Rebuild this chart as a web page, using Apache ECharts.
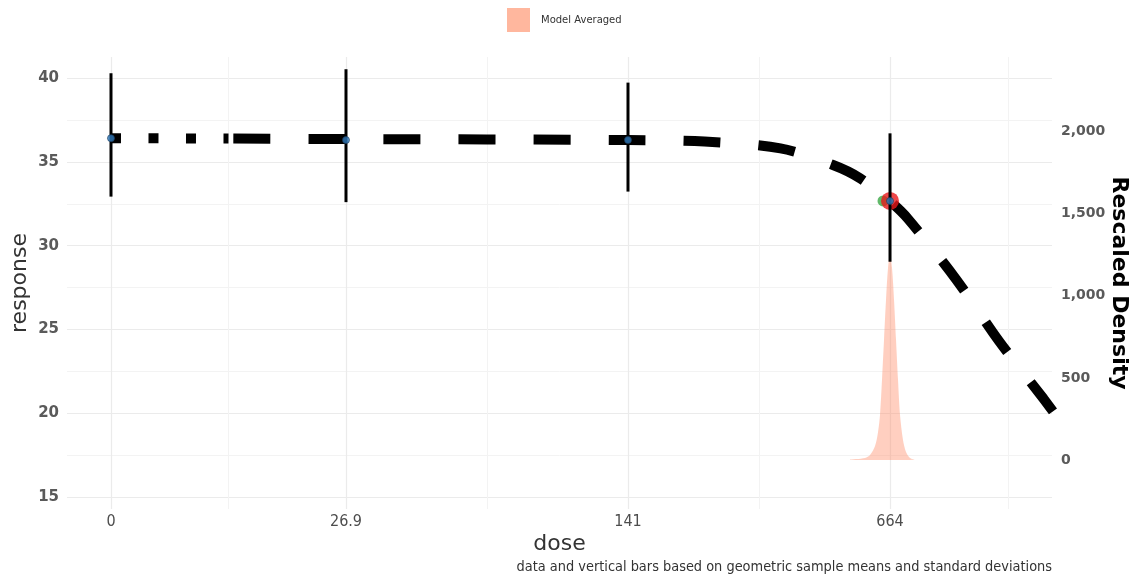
<!DOCTYPE html>
<html><head><meta charset="utf-8">
<script src="https://cdn.jsdelivr.net/npm/echarts@6/dist/echarts.min.js"></script>
<style>html,body{margin:0;padding:0;background:#fff}#c{width:1135px;height:578px}</style>
</head><body><div id="c"></div><script>
// ---- axis definition (dose scale as drawn: tick doses and their scale positions)
const tickDoses = [0, 26.9, 141, 664];
const tickLabels = ['0', '26.9', '141', '664'];
const tickAxisPos = [0, 1, 2.2, 3.315];
const minorAxisPos = [0.5, 1.6, 2.7575, 3.82];
const yTicks = [15, 20, 25, 30, 35, 40];
const yMinorTicks = [17.5, 22.5, 27.5, 32.5, 37.5];
const densityTicks = [0, 500, 1000, 1500, 2000];

// ---- observed data (geometric means and SD bars)
const meanDoses = [0, 26.9, 141, 664];
const meanResp = [36.42, 36.31, 36.31, 32.67];
const lowerResp = [32.93, 32.6, 33.23, 29.04];
const upperResp = [40.3, 40.54, 39.74, 36.71];

// ---- model averaged curve
const curveDotDoses = [0, 6.7, 13.45];
const curveDotResp = [36.42, 36.41, 36.40];
const curveDashDoses = [13.45, 26.9, 141, 293.7, 445.4, 550.2, 604.1, 664, 699.9, 795.7, 881.6, 970.4, 989.3];
const curveDashResp = [36.40, 36.37, 36.31, 36.22, 35.81, 34.82, 34.03, 32.65, 31.6, 28.0, 24.3, 20.86, 20.1];

// ---- BMD markers
const bmdDose = 664, bmdResp = 32.67;
const bmdlDose = 650, bmdlResp = 32.67;

// ---- rescaled density of the model-averaged BMD
const densDoses = [584.2, 614.1, 624.1, 634.1, 640.1, 644.0, 648.0, 652.0, 656.0, 660.0, 664, 668.0, 672.0, 676.0, 680.0, 684.0, 689.9, 695.9, 703.9, 713.9];
const densVals  = [3, 12, 30, 85, 171, 274, 487, 731, 975, 1170, 1249, 1170, 975, 731, 487, 274, 122, 49, 12, 3];

function doseToAxis(d) {
  const n = tickDoses.length;
  let i = 0;
  while (i < n - 2 && d > tickDoses[i + 1]) i++;
  const t = (d - tickDoses[i]) / (tickDoses[i + 1] - tickDoses[i]);
  return tickAxisPos[i] + t * (tickAxisPos[i + 1] - tickAxisPos[i]);
}
const zip = (xs, ys) => xs.map((x, i) => [doseToAxis(x), ys[i]]);

const FONT = 'DejaVu Sans';
const NARROW = '"DejaVu Sans Condensed", "Liberation Sans Narrow", "DejaVu Sans", sans-serif';
const xMin = -0.1872, xMax = 4.0043;
const yMin = 14.27, yMax = 41.27;

const chart = echarts.init(document.getElementById('c'), null, {renderer: 'canvas'});
chart.setOption({
  animation: false,
  textStyle: {fontFamily: FONT},
  grid: {left: 67, right: 83, top: 57, bottom: 69, containLabel: false, outerBoundsMode: 'none'},
  legend: {
    left: 502, top: 3, itemWidth: 23, itemHeight: 24, icon: 'rect',
    data: ['Model Averaged'],
    textStyle: {fontSize: 10, color: '#333', fontFamily: FONT, padding: [0, 0, 0, 6]}
  },
  xAxis: [{
    type: 'value', min: xMin, max: xMax,
    axisLine: {show: false},
    axisTick: {show: false, customValues: tickAxisPos},
    axisLabel: {
      customValues: tickAxisPos, color: '#4d4d4d', fontSize: 16, margin: 5, fontFamily: NARROW,
      formatter: v => { const i = tickAxisPos.findIndex(p => Math.abs(p - v) < 1e-6); return i >= 0 ? tickLabels[i] : ''; }
    },
    splitLine: {show: true, lineStyle: {color: '#ebebeb', width: 1.2}},
    name: 'dose', nameLocation: 'middle', nameGap: 24, nameMoveOverlap: false,
    nameTextStyle: {fontSize: 22, color: '#333', fontFamily: FONT}
  }, {
    type: 'value', min: xMin, max: xMax, position: 'bottom',
    axisLine: {show: false},
    axisTick: {show: false, customValues: minorAxisPos},
    axisLabel: {show: false, customValues: minorAxisPos},
    splitLine: {show: true, lineStyle: {color: '#f3f3f3', width: 1}}
  }],
  yAxis: [{
    type: 'value', min: yMin, max: yMax, position: 'left',
    axisLine: {show: false},
    axisTick: {show: false, customValues: yTicks},
    axisLabel: {customValues: yTicks, color: '#5a5a5a', fontSize: 15, fontWeight: 'bold', margin: 8},
    splitLine: {show: true, lineStyle: {color: '#ebebeb', width: 1.2}},
    name: 'response', nameLocation: 'middle', nameRotate: 90, nameGap: 36, nameMoveOverlap: false,
    nameTextStyle: {fontSize: 22, color: '#333', fontFamily: FONT}
  }, {
    type: 'value', min: yMin, max: yMax, position: 'left',
    axisLine: {show: false},
    axisTick: {show: false, customValues: yMinorTicks},
    axisLabel: {show: false, customValues: yMinorTicks},
    splitLine: {show: true, lineStyle: {color: '#f3f3f3', width: 1}}
  }, {
    type: 'value', min: -298.5, max: 2455, position: 'right',
    axisLine: {show: false},
    axisTick: {show: false, customValues: densityTicks},
    axisLabel: {
      customValues: densityTicks, color: '#5a5a5a', fontSize: 14, fontWeight: 'bold', margin: 9,
      formatter: v => v.toLocaleString('en-US')
    },
    splitLine: {show: false},
    name: 'Rescaled Density', nameLocation: 'middle', nameRotate: -90, nameGap: 56, nameMoveOverlap: false,
    nameTextStyle: {fontSize: 22, fontWeight: 'bold', color: '#000', fontFamily: FONT}
  }],
  series: [{
    name: 'Model Averaged', type: 'line', yAxisIndex: 2, z: 1,
    data: zip(densDoses, densVals), smooth: 0.3, showSymbol: false, symbol: 'none',
    itemStyle: {color: '#ffb79e'},
    lineStyle: {width: 0, color: '#ffb79e'},
    areaStyle: {color: 'rgba(255,140,105,0.6)', origin: 0}
  }, {
    type: 'line', z: 2, data: zip(curveDotDoses, curveDotResp), showSymbol: false, symbol: 'none',
    lineStyle: {color: '#000', width: 10, type: [10, 27.5], cap: 'butt'}
  }, {
    type: 'line', z: 2, data: zip(curveDashDoses, curveDashResp), showSymbol: false, symbol: 'none', smooth: 0.3,
    lineStyle: {color: '#000', width: 10, type: [37, 38], dashOffset: 70, cap: 'butt'}
  }, {
    type: 'scatter', z: 3, data: [[doseToAxis(bmdlDose), bmdlResp]], symbolSize: 11,
    itemStyle: {color: '#3aa845'}
  }, {
    type: 'scatter', z: 4, data: [[doseToAxis(bmdDose), bmdResp]], symbolSize: 18,
    itemStyle: {color: '#e8181c'}
  }, {
    type: 'custom', z: 5,
    data: meanDoses.map((d, i) => [doseToAxis(d), lowerResp[i], upperResp[i]]),
    encode: {x: 0, y: [1, 2]},
    renderItem: (params, api) => {
      const a = api.coord([api.value(0), api.value(1)]);
      const b = api.coord([api.value(0), api.value(2)]);
      return {type: 'line', shape: {x1: a[0], y1: a[1], x2: b[0], y2: b[1]}, style: {stroke: '#000', lineWidth: 3}};
    }
  }, {
    type: 'scatter', z: 6, data: zip(meanDoses, meanResp), symbolSize: 7,
    itemStyle: {color: '#2f7bbd', borderColor: '#1b3b5a', borderWidth: 0.8}
  }],
  graphic: [{
    type: 'text', right: 83, top: 560,
    style: {text: 'data and vertical bars based on geometric sample means and standard deviations', fontSize: 14.4, fill: '#333', fontFamily: NARROW}
  }]
});
</script></body></html>
